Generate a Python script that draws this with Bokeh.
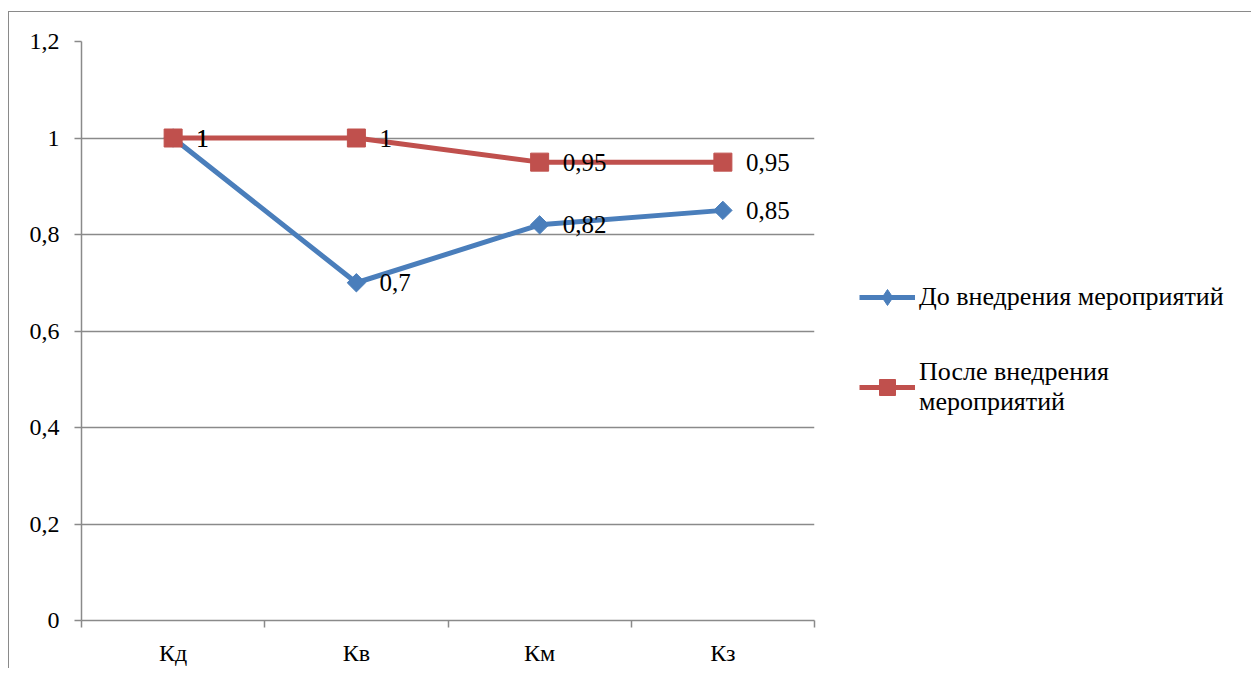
import math
from bokeh.plotting import figure
from bokeh.models import (FixedTicker, Legend, LegendItem, ColumnDataSource,
                          LabelSet, Range1d)
from bokeh.embed import file_html
from bokeh.resources import INLINE

categories = ["Кд", "Кв", "Км", "Кз"]
before = [1.0, 0.7, 0.82, 0.85]
after = [1.0, 1.0, 0.95, 0.95]
before_name = "До внедрения мероприятий"
after_name = "После внедрения\nмероприятий"
y_ticks = [0, 0.2, 0.4, 0.6, 0.8, 1.0, 1.2]

def fmt(v):
    return ("%g" % v).replace(".", ",")

xs = [i + 0.5 for i in range(len(categories))]
FONT = "Liberation Serif"
GRID = "#8a8a8a"
BLUE = "#4a7ebb"
RED = "#c0504d"

p = figure(frame_width=733, frame_height=579, output_backend="svg", toolbar_location=None,
           x_range=Range1d(0, len(categories)), y_range=Range1d(0, 1.2),
           min_border_left=72, min_border_top=29, min_border_bottom=0,
           min_border_right=0,
           styles={"margin-left": "8px", "margin-top": "11px",
                   "border-left": "1px solid #8a8a8a",
                   "border-top": "1px solid #8a8a8a"})
p.outline_line_color = None
p.background_fill_color = "white"

# axes
p.yaxis.ticker = FixedTicker(ticks=y_ticks)
p.yaxis.major_label_overrides = {t: fmt(t) for t in y_ticks}
p.xaxis.ticker = FixedTicker(ticks=xs, minor_ticks=list(range(len(categories) + 1)))
p.xaxis.major_label_overrides = {x: c for x, c in zip(xs, categories)}
for ax in (p.xaxis, p.yaxis):
    ax.axis_line_color = GRID
    ax.axis_line_width = 1.5
    ax.major_label_text_font = FONT
    ax.major_label_text_font_size = "24px"
    ax.major_label_text_color = "black"
p.xaxis.major_tick_line_color = None
p.xaxis.minor_tick_line_color = GRID
p.xaxis.minor_tick_line_width = 1.5
p.xaxis.minor_tick_in = 0
p.xaxis.minor_tick_out = 7
p.xaxis.major_label_standoff = 12
p.yaxis.major_tick_line_color = GRID
p.yaxis.major_tick_line_width = 1.5
p.yaxis.major_tick_in = 0
p.yaxis.major_tick_out = 7
p.yaxis.minor_tick_line_color = None
p.yaxis.major_label_standoff = 15

p.xgrid.grid_line_color = None
p.ygrid.ticker = FixedTicker(ticks=y_ticks)
p.ygrid.grid_line_color = GRID
p.ygrid.grid_line_width = 1.5

src_b = ColumnDataSource(dict(x=xs, y=before, lab=[fmt(v) for v in before]))
src_a = ColumnDataSource(dict(x=xs, y=after, lab=[fmt(v) for v in after]))

lb = p.line("x", "y", source=src_b, line_color=BLUE, line_width=5)
mb = p.scatter("x", "y", source=src_b, marker="square", angle=math.pi / 4, size=13,
               fill_color=BLUE, line_color=BLUE)
la = p.line("x", "y", source=src_a, line_color=RED, line_width=5)
ma = p.scatter("x", "y", source=src_a, marker="square", size=18,
               fill_color=RED, line_color=RED)
# legend-only diamond (hidden renderer over the same data)
kb = p.scatter("x", "y", source=src_b, marker="diamond", size=19,
               fill_color=BLUE, line_color=BLUE, visible=False)

for src in (src_b, src_a):
    p.add_layout(LabelSet(x="x", y="y", text="lab", source=src, x_offset=23,
                          text_baseline="middle", text_align="left",
                          text_font=FONT, text_font_size="25px", text_color="black"))

legend = Legend(items=[LegendItem(label=before_name, renderers=[lb, kb]),
                       LegendItem(label=after_name, renderers=[la, ma])],
                location=(45, 203), orientation="vertical")
legend.label_text_font = FONT
legend.label_text_font_size = "26px"
legend.label_text_color = "black"
legend.border_line_color = None
legend.background_fill_alpha = 0
legend.glyph_width = 56
legend.glyph_height = 40
legend.label_standoff = 4
legend.spacing = 40
legend.margin = 25
legend.padding = 10
p.add_layout(legend, "right")

open("out.html", "w").write(file_html(p, INLINE))
